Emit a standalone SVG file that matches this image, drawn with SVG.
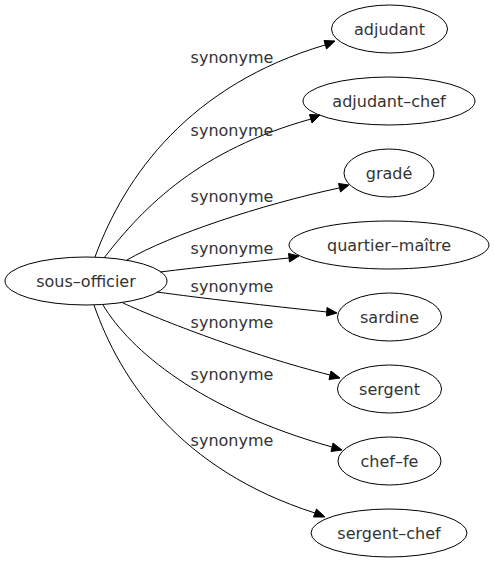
<svg xmlns="http://www.w3.org/2000/svg" width="495" height="563" viewBox="0 0 495 563">
<defs>
<style>
.n ellipse{fill:none;stroke:#000;stroke-width:1}
text{font-family:"DejaVu Sans",sans-serif;font-size:16px;fill:#333;text-anchor:middle}
.e path{fill:none;stroke:#000;stroke-width:1}
.e polygon{fill:#000;stroke:#000}
</style>
</defs>
<rect width="495" height="563" fill="#fff"/>
<g class="e" id="edges">
<path d="M95,257 C125,175 190,85 325,45"/>
<polygon points="335,41 324,40.5 326.5,49"/>
<text x="232" y="63">synonyme</text>
<path d="M104,258 C145,205 200,150 311,119"/>
<polygon points="320,115 309.5,114.5 312,123"/>
<text x="232" y="136">synonyme</text>
<path d="M127,260 C170,235 260,205 339,188"/>
<polygon points="349,185 338.5,183.5 340.5,192"/>
<text x="232" y="202">synonyme</text>
<path d="M160,272 C200,267 250,262 289,258"/>
<polygon points="299,256 288.5,253.5 289.5,262"/>
<text x="232" y="254">synonyme</text>
<path d="M157,292 C200,298 270,306 327,312"/>
<polygon points="337,313 327,307.5 326.5,316"/>
<text x="232" y="292">synonyme</text>
<path d="M123,303 C160,320 250,355 330,375"/>
<polygon points="340,378 331,371 329,379.5"/>
<text x="232" y="328">synonyme</text>
<path d="M103,305 C130,350 200,410 332,447"/>
<polygon points="342,450 333,443 331,451.5"/>
<text x="232" y="380">synonyme</text>
<path d="M94,305 C120,380 180,470 315,513"/>
<polygon points="325,517 316.5,509 313.5,517"/>
<text x="232" y="446">synonyme</text>
</g>
<g class="n" id="sous-officier"><ellipse cx="86" cy="281" rx="81" ry="24"/><text x="86" y="287">sous–officier</text></g>
<g class="n" id="adjudant"><ellipse cx="389.5" cy="29" rx="58" ry="24"/><text x="389.5" y="35">adjudant</text></g>
<g class="n" id="adjudant-chef"><ellipse cx="389" cy="101" rx="86" ry="24"/><text x="389" y="107">adjudant–chef</text></g>
<g class="n" id="grade"><ellipse cx="389" cy="173" rx="45" ry="24"/><text x="389" y="179">gradé</text></g>
<g class="n" id="quartier-maitre"><ellipse cx="389" cy="245" rx="100" ry="24"/><text x="389" y="251">quartier–maître</text></g>
<g class="n" id="sardine"><ellipse cx="389.5" cy="317" rx="52" ry="24"/><text x="389.5" y="323">sardine</text></g>
<g class="n" id="sergent"><ellipse cx="389.5" cy="389" rx="52" ry="24"/><text x="389.5" y="395">sergent</text></g>
<g class="n" id="chef-fe"><ellipse cx="389.5" cy="461" rx="51.5" ry="24"/><text x="389.5" y="467">chef–fe</text></g>
<g class="n" id="sergent-chef"><ellipse cx="389" cy="533" rx="78" ry="24"/><text x="389" y="539">sergent–chef</text></g>
</svg>
